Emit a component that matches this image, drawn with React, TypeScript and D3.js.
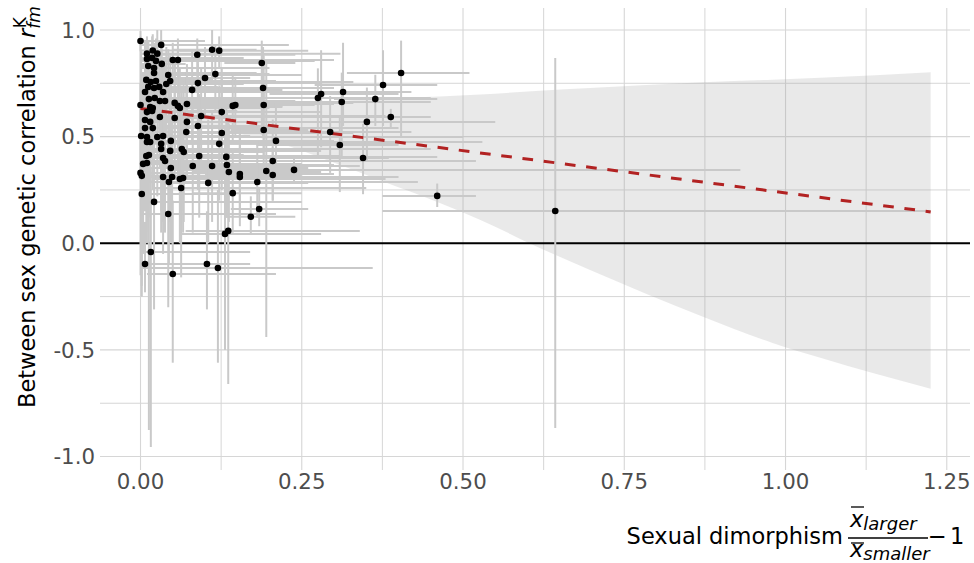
import React from 'react';
import * as d3 from 'd3';

const W = 974;
const H = 563;
const panel = { left: 100, right: 970, top: 8, bottom: 470 };
const xDomain = [-0.0628, 1.286];
const yDomain = [-1.063, 1.103];

const xMajor = [0, 0.25, 0.5, 0.75, 1.0, 1.25];
const xMajorLabels = ['0.00', '0.25', '0.50', '0.75', '1.00', '1.25'];
const xMinor = [0.125, 0.375, 0.625, 0.875, 1.125];
const yMajor = [-1, -0.5, 0, 0.5, 1];
const yMajorLabels = ['-1.0', '-0.5', '0.0', '0.5', '1.0'];
const yMinor = [-0.75, -0.25, 0.25, 0.75];

const dimorphism = [
  0.000, 0.032, 0.019, 0.010, 0.026, 0.088, 0.111, 0.122, 0.010, 0.018,
  0.024, 0.050, 0.058, 0.033, 0.012, 0.021, 0.188, 0.021, 0.043, 0.116,
  0.100, 0.009, 0.016, 0.024, 0.046, 0.089, 0.040, 0.012, 0.021, 0.029,
  0.190, 0.080, 0.035, 0.007, 0.013, 0.022, 0.030, 0.038, 0.053, 0.058,
  0.061, 0.072, 0.000, 0.147, 0.143, 0.191, 0.015, 0.019, 0.126, 0.094,
  0.010, 0.018, 0.030, 0.053, 0.007, 0.015, 0.072, 0.089, 0.191, 0.007,
  0.019, 0.126, 0.001, 0.010, 0.026, 0.035, 0.071, 0.047, 0.210, 0.122,
  0.010, 0.015, 0.032, 0.032, 0.046, 0.064, 0.067, 0.009, 0.013, 0.035,
  0.038, 0.091, 0.133, 0.004, 0.010, 0.081, 0.111, 0.134, 0.047, 0.205,
  0.137, 0.154, 0.154, 0.195, 0.205, 0.238, 0.000, 0.002, 0.049, 0.035,
  0.044, 0.061, 0.066, 0.105, 0.181, 0.063, 0.143, 0.002, 0.021, 0.184,
  0.171, 0.043, 0.136, 0.131, 0.016, 0.007, 0.103, 0.120, 0.050, 0.404,
  0.376, 0.280, 0.275, 0.314, 0.312, 0.364, 0.351, 0.388, 0.294, 0.309,
  0.345, 0.460, 0.643,
];

const correlation = [
  0.948, 0.930, 0.904, 0.889, 0.889, 0.884, 0.907, 0.903, 0.864, 0.869,
  0.855, 0.859, 0.859, 0.841, 0.831, 0.822, 0.845, 0.798, 0.789, 0.793,
  0.775, 0.766, 0.756, 0.761, 0.761, 0.751, 0.747, 0.733, 0.728, 0.733,
  0.728, 0.719, 0.709, 0.709, 0.676, 0.681, 0.667, 0.667, 0.658, 0.644,
  0.634, 0.653, 0.648, 0.648, 0.644, 0.648, 0.639, 0.634, 0.615, 0.597,
  0.615, 0.620, 0.592, 0.587, 0.578, 0.569, 0.569, 0.550, 0.531, 0.540,
  0.540, 0.517, 0.503, 0.498, 0.498, 0.503, 0.522, 0.480, 0.480, 0.466,
  0.475, 0.475, 0.466, 0.442, 0.433, 0.442, 0.428, 0.409, 0.414, 0.400,
  0.386, 0.409, 0.405, 0.372, 0.376, 0.362, 0.362, 0.367, 0.353, 0.386,
  0.334, 0.325, 0.311, 0.339, 0.320, 0.344, 0.330, 0.316, 0.311, 0.311,
  0.287, 0.301, 0.306, 0.283, 0.287, 0.259, 0.235, 0.231, 0.194, 0.161,
  0.124, 0.137, 0.058, 0.044, -0.041, -0.097, -0.097, -0.116, -0.144, 0.798,
  0.742, 0.700, 0.681, 0.709, 0.662, 0.676, 0.569, 0.592, 0.522, 0.461,
  0.400, 0.222, 0.151,
];

const dimLow = [
  0, 0, 0, 0, 0, 0.03, 0.05, 0.06, 0, 0,
  0, 0.01, 0.02, 0, 0, 0, 0.13, 0, 0, 0.07,
  0.05, 0, 0, 0, 0, 0.04, 0, 0, 0, 0,
  0.14, 0.03, 0, 0, 0, 0, 0, 0, 0.01, 0.01,
  0.02, 0.02, 0, 0.09, 0.08, 0.14, 0, 0, 0.07, 0.04,
  0, 0, 0, 0, 0, 0, 0.02, 0.04, 0.14, 0,
  0, 0.07, -0.0014, 0, 0, 0, 0.02, 0, 0.16, 0.06,
  0, 0, 0, 0, 0, 0.02, 0.02, 0, 0, 0,
  0, 0.04, 0.08, 0, 0, 0.03, 0.06, 0.08, 0, 0.15,
  0.08, 0.10, 0.10, 0.15, 0.16, 0.05, 0, 0, 0, 0,
  0, 0.02, 0.02, 0.05, 0.13, 0.02, 0.08, 0, 0, 0.14,
  0.13, 0, 0.07, 0.06, 0, 0, 0.05, 0, 0.01, 0.32,
  0.27, 0.20, 0.15, 0.24, 0.22, 0.30, 0.25, 0.33, 0.20, 0.18,
  0.305, 0.375, 0.375,
];

const dimHigh = [
  0.10, 0.23, 0.12, 0.06, 0.31, 0.24, 0.18, 0.26, 0.09, 0.16,
  0.27, 0.14, 0.30, 0.07, 0.04, 0.20, 0.24, 0.18, 0.25, 0.20,
  0.17, 0.11, 0.33, 0.14, 0.21, 0.28, 0.16, 0.07, 0.30, 0.12,
  0.26, 0.22, 0.26, 0.05, 0.19, 0.45, 0.13, 0.24, 0.33, 0.16,
  0.20, 0.30, 0.10, 0.24, 0.22, 0.27, 0.22, 0.09, 0.23, 0.38,
  0.28, 0.15, 0.36, 0.14, 0.06, 0.25, 0.32, 0.20, 0.26, 0.19,
  0.40, 0.33, 0.08, 0.26, 0.50, 0.17, 0.24, 0.30, 0.27, 0.40,
  0.53, 0.22, 0.35, 0.12, 0.28, 0.45, 0.19, 0.31, 0.16, 0.37,
  0.21, 0.29, 0.46, 0.25, 0.12, 0.34, 0.21, 0.30, 0.26, 0.52,
  0.24, 0.30, 0.36, 0.28, 0.25, 0.93, 0.28, 0.18, 0.40, 0.15,
  0.23, 0.38, 0.18, 0.26, 0.43, 0.35, 0.25, 0.14, 0.25, 0.26,
  0.24, 0.21, 0.34, 0.28, 0.17, 0.11, 0.17, 0.36, 0.21, 0.51,
  0.46, 0.40, 0.35, 0.42, 0.45, 0.46, 0.55, 0.45, 0.42, 0.40,
  0.385, 0.52, 1.225,
];

const corLow = [
  0.90, 0.85, 0.80, 0.78, 0.70, 0.78, 0.75, 0.82, 0.74, 0.70,
  0.72, 0.76, 0.70, 0.70, 0.60, 0.66, 0.51, 0.62, 0.65, 0.62,
  0.60, 0.45, 0.57, 0.58, 0.62, 0.60, 0.50, 0.40, 0.55, 0.52,
  0.50, 0.48, 0.52, 0.35, 0.45, 0.50, 0.40, 0.48, 0.45, 0.30,
  0.42, 0.45, 0.30, 0.50, 0.48, 0.40, 0.35, 0.38, 0.40, 0.35,
  0.30, 0.40, 0.35, 0.30, 0.20, 0.28, 0.30, 0.25, 0.30, 0.15,
  0.25, 0.25, 0.10, 0.20, 0.22, 0.18, 0.30, 0.15, 0.30, 0.20,
  0.10, 0.12, 0.15, 0.05, 0.10, 0.15, 0.10, 0.05, -0.875, 0.10,
  0.05, 0.12, 0.15, -0.05, 0.00, 0.05, 0.10, 0.12, 0.00, 0.20,
  0.10, 0.12, 0.08, -0.44, 0.20, 0.28, -0.15, -0.20, 0.00, -0.05,
  -0.10, 0.00, 0.05, 0.00, 0.12, -0.16, 0.05, -0.25, -0.31, 0.08,
  0.04, -0.30, -0.66, -0.50, -0.955, -0.23, -0.31, -0.56, -0.56, 0.50,
  0.55, 0.45, 0.40, 0.55, 0.40, 0.55, 0.39, 0.545, 0.33, 0.24,
  0.23, 0.17, -0.866,
];

const corHigh = [
  0.995, 1.0, 0.98, 0.97, 1.0, 0.96, 1.0, 0.97, 0.95, 0.97,
  0.96, 0.94, 0.96, 0.95, 0.95, 0.93, 0.95, 0.94, 0.91, 0.93,
  0.92, 0.95, 0.90, 0.91, 0.88, 0.88, 0.92, 0.95, 0.88, 0.90,
  0.92, 0.90, 0.87, 0.95, 0.88, 0.85, 0.88, 0.84, 0.85, 0.90,
  0.82, 0.84, 0.97, 0.78, 0.80, 0.88, 0.90, 0.86, 0.82, 0.82,
  0.90, 0.85, 0.80, 0.85, 0.92, 0.84, 0.82, 0.84, 0.76, 0.90,
  0.82, 0.78, 0.90, 0.80, 0.78, 0.82, 0.75, 0.80, 0.66, 0.74,
  0.85, 0.82, 0.78, 0.82, 0.76, 0.74, 0.76, 0.78, 0.82, 0.70,
  0.72, 0.70, 0.66, 0.80, 0.75, 0.68, 0.62, 0.62, 0.70, 0.58,
  0.56, 0.52, 0.54, 0.85, 0.45, 0.41, 0.75, 0.70, 0.62, 0.65,
  0.62, 0.60, 0.56, 0.58, 0.48, 0.62, 0.44, 0.65, 0.62, 0.26,
  0.22, 0.55, 0.60, 0.55, 0.35, 0.10, 0.15, 0.25, 0.20, 0.95,
  0.905, 0.905, 0.82, 0.94, 0.80, 0.79, 0.73, 0.63, 0.69, 0.60,
  0.56, 0.28, 0.869,
];

// confidence band of the fitted line
const bandX = [0, 0.05, 0.10, 0.15, 0.216, 0.247, 0.37, 0.464, 0.527, 0.619, 0.697, 0.872, 0.98, 1.054, 1.225];
const bandHigh = [0.675, 0.655, 0.642, 0.642, 0.650, 0.657, 0.678, 0.688, 0.697, 0.715, 0.728, 0.755, 0.767, 0.776, 0.802];
const bandLow = [0.59, 0.575, 0.55, 0.515, 0.47, 0.437, 0.297, 0.189, 0.109, -0.022, -0.125, -0.344, -0.467, -0.537, -0.682];

const fitX = [0, 1.225];
const fitY = [0.632, 0.147];

const FONT = 'DejaVu Sans';

export default function App() {
  const x = d3.scaleLinear().domain(xDomain).range([panel.left, panel.right]);
  const y = d3.scaleLinear().domain(yDomain).range([panel.bottom, panel.top]);

  const band = d3
    .area<number>()
    .x((d) => x(d))
    .y0((_, i) => y(bandLow[i]))
    .y1((_, i) => y(bandHigh[i]))
    .curve(d3.curveMonotoneX)(bandX) as string;

  const fit = d3
    .line<number>()
    .x((d) => x(d))
    .y((_, i) => y(fitY[i]))(fitX) as string;

  const gridColor = '#d6d6d6';
  const errColor = '#c9c9c9';

  return (
    <svg
      width={W}
      height={H}
      style={{ position: 'absolute', left: 0, top: 0, background: '#fff' }}
      fontFamily={FONT}
    >
      <defs>
        <clipPath id="panelClip">
          <rect x={panel.left} y={panel.top} width={panel.right - panel.left} height={panel.bottom - panel.top} />
        </clipPath>
      </defs>
      {/* grid */}
      <g>
        {xMinor.map((v) => (
          <line key={'xm' + v} x1={x(v)} x2={x(v)} y1={panel.top} y2={panel.bottom} stroke={gridColor} strokeWidth={1} />
        ))}
        {yMinor.map((v) => (
          <line key={'ym' + v} x1={panel.left} x2={panel.right} y1={y(v)} y2={y(v)} stroke={gridColor} strokeWidth={1} />
        ))}
        {xMajor.map((v) => (
          <line key={'xM' + v} x1={x(v)} x2={x(v)} y1={panel.top} y2={panel.bottom} stroke={gridColor} strokeWidth={1.1} />
        ))}
        {yMajor.map((v) => (
          <line key={'yM' + v} x1={panel.left} x2={panel.right} y1={y(v)} y2={y(v)} stroke={gridColor} strokeWidth={1.1} />
        ))}
      </g>
      <g clipPath="url(#panelClip)">
        <path d={band} fill="#999999" fillOpacity={0.22} stroke="none" />
        <line x1={panel.left} x2={panel.right} y1={y(0)} y2={y(0)} stroke="#000" strokeWidth={2} />
        {dimorphism.map((d, i) => (
          <g key={'e' + i}>
            <line x1={x(d)} x2={x(d)} y1={y(corLow[i])} y2={y(corHigh[i])} stroke={errColor} strokeWidth={2} />
            <line x1={x(dimLow[i])} x2={x(dimHigh[i])} y1={y(correlation[i])} y2={y(correlation[i])} stroke={errColor} strokeWidth={2} />
          </g>
        ))}
        <path d={fit} fill="none" stroke="#B22222" strokeWidth={3} strokeDasharray="10.7 10.7" />
        {dimorphism.map((d, i) => (
          <circle key={'p' + i} cx={x(d)} cy={y(correlation[i])} r={3.3} fill="#000" />
        ))}
      </g>
      {/* axis labels */}
      {yMajor.map((v, i) => (
        <text key={'yl' + v} x={95} y={y(v)} dy="0.36em" textAnchor="end" fontSize={21.3} fill="#4d4d4d">
          {yMajorLabels[i]}
        </text>
      ))}
      {xMajor.map((v, i) => (
        <text key={'xl' + v} x={x(v)} y={488.5} textAnchor="middle" fontSize={21.3} fill="#4d4d4d">
          {xMajorLabels[i]}
        </text>
      ))}
      {/* y title */}
      <text transform="translate(34.5,408) rotate(-90)" fontSize={22.5} fill="#000">
        Between sex genetic correlation{' '}
        <tspan fontStyle="italic">r</tspan>
        <tspan fontStyle="italic" fontSize={17} dy={5}>fm</tspan>
        <tspan fontSize={17} dx={-22} dy={-14}>K</tspan>
      </text>
      {/* x title */}
      <text x={843} y={544} textAnchor="end" fontSize={22.5} fill="#000">Sexual dimorphism</text>
      <text x={850} y={527} fontSize={22.5} fill="#000">
        <tspan fontStyle="italic">x</tspan>
        <tspan fontStyle="italic" fontSize={18} dy={3}>larger</tspan>
      </text>
      <line x1={851} x2={864} y1={507} y2={507} stroke="#000" strokeWidth={1.3} />
      <line x1={848} x2={928} y1={538} y2={538} stroke="#000" strokeWidth={1.3} />
      <text x={850} y={557} fontSize={22.5} fill="#000">
        <tspan fontStyle="italic">x</tspan>
        <tspan fontStyle="italic" fontSize={18} dy={3}>smaller</tspan>
      </text>
      <line x1={851} x2={864} y1={543} y2={543} stroke="#000" strokeWidth={1.3} />
      <text x={928} y={544} fontSize={22.5} fill="#000">{'\u2212'}</text>
      <text x={950} y={544} fontSize={22.5} fill="#000">1</text>
    </svg>
  );
}
